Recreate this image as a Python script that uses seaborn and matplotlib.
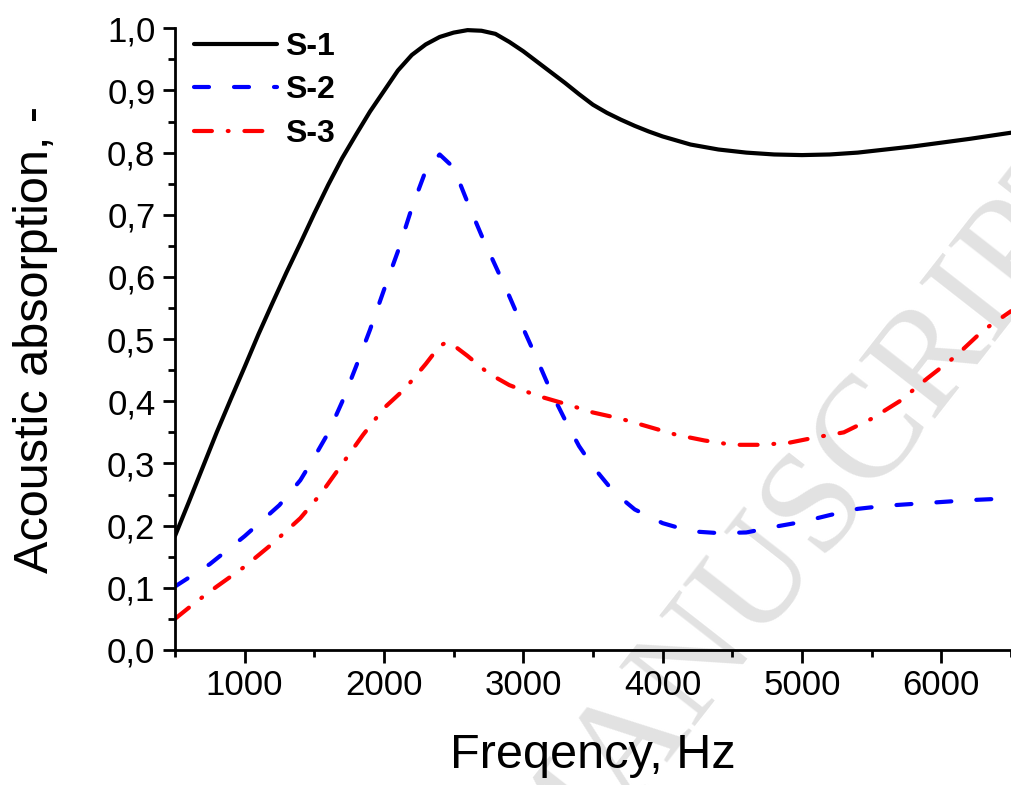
import pandas as pd
import matplotlib
matplotlib.use("Agg")
import matplotlib.pyplot as plt
from matplotlib.ticker import AutoMinorLocator, FuncFormatter, MultipleLocator
import seaborn as sns

# values
s1_freq = [500, 600, 700, 800, 900, 1000, 1100, 1200, 1300, 1400, 1500, 1600, 1700, 1800,
           1900, 2000, 2100, 2200, 2300, 2400, 2500, 2600, 2700, 2800, 2900, 3000, 3100,
           3200, 3300, 3400, 3500, 3600, 3700, 3800, 3900, 4000, 4200, 4400, 4600, 4800,
           5000, 5200, 5400, 5600, 5800, 6000, 6200, 6500]
s1_abs = [0.183, 0.238, 0.294, 0.350, 0.403, 0.455, 0.508, 0.558, 0.607, 0.654, 0.702, 0.748,
          0.791, 0.829, 0.866, 0.899, 0.932, 0.957, 0.974, 0.986, 0.993, 0.997, 0.996, 0.991,
          0.978, 0.963, 0.946, 0.929, 0.912, 0.894, 0.877, 0.864, 0.853, 0.843, 0.834, 0.826,
          0.813, 0.805, 0.800, 0.797, 0.796, 0.797, 0.800, 0.805, 0.810, 0.816, 0.822, 0.832]

s2_freq = [500, 750, 1000, 1250, 1400, 1500, 1600, 1700, 1800, 1900, 2000, 2100, 2200, 2300,
           2400, 2500, 2600, 2700, 2800, 2900, 3000, 3100, 3200, 3300, 3400, 3500, 3650, 3800,
           4000, 4200, 4400, 4600, 4800, 5000, 5200, 5400, 5600, 5800, 6000, 6200, 6500]
s2_abs = [0.102, 0.138, 0.183, 0.233, 0.273, 0.310, 0.349, 0.399, 0.456, 0.515, 0.579, 0.641,
          0.711, 0.771, 0.797, 0.776, 0.720, 0.667, 0.618, 0.569, 0.517, 0.467, 0.415, 0.370,
          0.328, 0.295, 0.254, 0.226, 0.204, 0.191, 0.188, 0.189, 0.198, 0.206, 0.217, 0.227,
          0.232, 0.235, 0.238, 0.241, 0.244]

s3_freq = [500, 650, 800, 1000, 1200, 1400, 1550, 1700, 1850, 2000, 2150, 2300, 2400, 2450,
           2500, 2600, 2750, 2900, 3100, 3300, 3500, 3700, 3900, 4100, 4300, 4500, 4700, 4900,
           5100, 5300, 5500, 5700, 5900, 6100, 6300, 6500]
s3_abs = [0.050, 0.077, 0.102, 0.134, 0.171, 0.212, 0.252, 0.299, 0.346, 0.389, 0.420, 0.460,
          0.489, 0.495, 0.490, 0.473, 0.445, 0.426, 0.409, 0.396, 0.382, 0.372, 0.359, 0.346,
          0.337, 0.330, 0.330, 0.333, 0.342, 0.350, 0.372, 0.400, 0.437, 0.472, 0.514, 0.545]

samples = ["S-1", "S-2", "S-3"]
colors = ["black", "blue", "red"]

df = pd.concat([
    pd.DataFrame({"Freq": s1_freq, "Abs": s1_abs, "Sample": samples[0]}),
    pd.DataFrame({"Freq": s2_freq, "Abs": s2_abs, "Sample": samples[1]}),
    pd.DataFrame({"Freq": s3_freq, "Abs": s3_abs, "Sample": samples[2]}),
])

sns.set_style("ticks")
plt.rcParams["font.family"] = ["Liberation Sans", "DejaVu Sans"]
plt.rcParams["lines.dash_capstyle"] = "round"
plt.rcParams["lines.solid_capstyle"] = "round"
for key in ["text.color", "axes.labelcolor", "xtick.color", "ytick.color", "axes.edgecolor"]:
    plt.rcParams[key] = "black"

fig = plt.figure(figsize=(10.11, 7.85), dpi=100)
ax = fig.add_axes([0.173, 0.172, 0.827, 0.792])

# faint watermark behind the data (partly off the page, as in the reference)
fig.text(0.80, 0.34, "MANUSCRIPT", family="Liberation Serif", fontsize=105,
         color="#e2e2e2", rotation=52, ha="center", va="center", rotation_mode="anchor",
         zorder=-1)
ax.set_facecolor("none")

sns.lineplot(
    data=df,
    x="Freq",
    y="Abs",
    hue="Sample",
    style="Sample",
    palette=colors,
    dashes=["", (3.6, 6.0), (4.3, 3.8, 0.2, 3.8)],
    linewidth=3.0,
    ax=ax,
)

ax.set_xlim(500, 6500)
ax.set_ylim(0, 1.0)
ax.xaxis.set_major_locator(MultipleLocator(1000))
ax.yaxis.set_major_locator(MultipleLocator(0.1))
ax.xaxis.set_minor_locator(AutoMinorLocator(2))
ax.yaxis.set_minor_locator(AutoMinorLocator(2))
ax.yaxis.set_major_formatter(FuncFormatter(lambda v, p: f"{v:.1f}".replace(".", ",")))

ax.tick_params(which="major", length=9, width=2, labelsize=25, direction="out", pad=5)
ax.tick_params(which="minor", length=5, width=2, direction="out")
for side in ["left", "bottom"]:
    ax.spines[side].set_linewidth(2)
sns.despine(ax=ax)

ax.set_xlabel("Freqency, Hz", fontsize=35, labelpad=22)
ax.set_ylabel("Acoustic absorption, -", fontsize=35, labelpad=35)

leg = ax.legend(loc="upper left", frameon=False, prop={"weight": "bold", "size": 23},
                handlelength=2.6, handletextpad=0.25, labelspacing=0.42,
                borderaxespad=0.2, bbox_to_anchor=(0.0, 1.025))
for line in leg.get_lines():
    line.set_linewidth(3.0)

fig.savefig("out.png", dpi=100)
